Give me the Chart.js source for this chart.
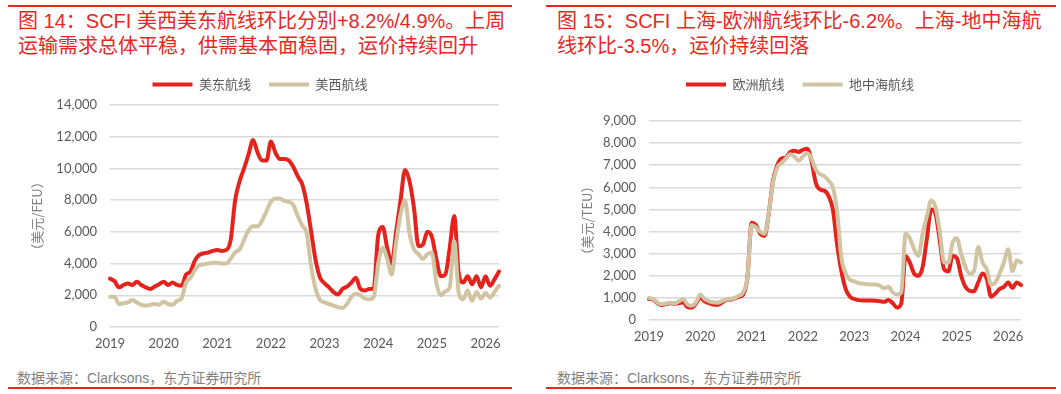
<!DOCTYPE html>
<html>
<head>
<meta charset="utf-8">
<script src="https://cdn.jsdelivr.net/npm/chart.js@4"></script>
<style>
  html, body { margin: 0; padding: 0; background: #fff; }
  body { width: 1061px; height: 394px; position: relative; overflow: hidden; font-family: "Liberation Sans", "Noto Sans CJK SC", sans-serif; }
  .rule { position: absolute; height: 2px; background: #e8281f; }
  .title { position: absolute; top: 9px; color: #e8281f; font-size: 20px; line-height: 24.5px; white-space: nowrap; }
  .source { position: absolute; top: 367px; color: #7f7f7f; font-size: 14px; white-space: nowrap; }
  canvas { position: absolute; }
</style>
</head>
<body>
<div class="rule" style="left:8px; top:5px; width:504px;"></div>
<div class="rule" style="left:546px; top:5px; width:510px;"></div>
<div class="title" style="left:18px;">图 14：SCFI 美西美东航线环比分别+8.2%/4.9%。上周<br>运输需求总体平稳，供需基本面稳固，运价持续回升</div>
<div class="title" style="left:557px;">图 15：SCFI 上海-欧洲航线环比-6.2%。上海-地中海航<br>线环比-3.5%，运价持续回落</div>

<canvas id="chart-us" width="490" height="300" style="left:21px; top:60px;"></canvas>
<canvas id="chart-eu" width="472" height="293" style="left:579px; top:60px;"></canvas>

<div class="source" style="left:17px;">数据来源：Clarksons，东方证券研究所</div>
<div class="source" style="left:557px;">数据来源：Clarksons，东方证券研究所</div>
<div class="rule" style="left:8px; top:387px; width:504px;"></div>
<div class="rule" style="left:546px; top:387px; width:510px;"></div>

<script>
// 月份：2019-01 到 2026-04
const months = [];
for (let y = 2019; y <= 2026; y++) {
    for (let m = 1; m <= 12; m++) {
        if (y === 2026 && m > 4) break;
        months.push(y + '-' + String(m).padStart(2, '0'));
    }
}

// 图14 美东 / 美西 (美元/FEU)
const usEast = [
    3050, 2900, 2500, 2650, 2750, 2650, 2850, 2650, 2500, 2400, 2550, 2700,
    2850, 2650, 2800, 2650, 2600, 3300, 3500, 4200, 4550, 4650, 4700, 4800,
    4850, 4800, 4850, 5500, 8000, 9200, 10000, 10900, 11800, 11000, 10500, 10500,
    11700, 11000, 10600, 10600, 10500, 10100, 9500, 9000, 7800, 6000, 4200, 3100,
    2750, 2500, 2200, 2050, 2400, 2550, 2800, 3100, 2400, 2300, 2400, 2450,
    5800, 6300, 5000, 4000, 6000, 8000, 9900, 9200, 7500, 5100, 5200, 6000,
    5700, 4300, 3200, 3300, 5000, 7000, 3400, 2800, 3200, 2700, 3200, 2500,
    3200, 2600, 3000, 3500
];
const usWest = [
    1900, 1900, 1450, 1500, 1550, 1700, 1550, 1400, 1350, 1400, 1450, 1400,
    1600, 1450, 1400, 1650, 1800, 2800, 3100, 3600, 3900, 3950, 4000, 4050,
    4050, 4000, 4000, 4300, 4700, 4900, 5500, 6100, 6350, 6350, 6700, 7300,
    7900, 8100, 8100, 7950, 7900, 7700, 7000, 6400, 5900, 3800, 2400, 1700,
    1550, 1450, 1350, 1250, 1200, 1450, 1900, 2100, 2000, 1800, 1750, 1900,
    4000, 5000, 4300, 3300, 5300, 7100, 8000, 5900, 4900, 4600, 4300, 4600,
    4700, 2800, 2000, 2250, 2500, 5400, 2200, 1750, 2300, 1650, 2200, 1800,
    2150, 1850, 2200, 2600
];

// 图15 欧洲 / 地中海 (美元/TEU)
const europe = [
    950, 920, 750, 680, 720, 760, 740, 760, 800, 580, 560, 750,
    1000, 850, 760, 700, 680, 780, 900, 920, 980, 1050, 1150, 1900,
    4400, 4300, 3900, 3800, 4800, 6300, 7000, 7300, 7350, 7600, 7650, 7600,
    7700, 7750, 7200, 6200, 5900, 5850, 5600, 5000, 3400, 2200, 1400, 1050,
    950, 900, 880, 880, 880, 870, 850, 820, 900, 760, 560, 750,
    2900, 2600, 2100, 2000, 2400, 3700, 5000, 4800, 3600, 2300, 2200, 2900,
    2800, 2000, 1500, 1320, 1300, 1700, 2100, 1850, 1050, 1200, 1400, 1500,
    1700, 1450, 1700, 1580
];
const mediterranean = [
    1000, 950, 780, 720, 750, 780, 760, 850, 950, 700, 650, 800,
    1150, 950, 850, 800, 780, 850, 920, 950, 1000, 1100, 1250, 1900,
    4300, 4200, 4000, 3900, 4800, 6200, 6900, 7100, 7300, 7500, 7400, 7200,
    7400, 7550, 7300, 6800, 6600, 6500, 6300, 6000, 4900, 2800, 2100, 1820,
    1750, 1670, 1650, 1620, 1600, 1600, 1550, 1440, 1500, 1250, 1150, 1250,
    3900, 3700, 3200, 2900, 3900, 4700, 5400, 5100, 4000, 2600, 2600, 3500,
    3700, 3000, 2400, 2100, 2200, 3300, 2600, 2300, 1600, 1700, 2100, 2600,
    3200, 2200, 2700, 2600
];

const RED = '#e5231c';
const BEIGE = '#d0c4a3';
const GRAY = '#595959';

// 图例与绘图区之间留空
function legendGap(gap) {
    return {
        id: 'legendGap',
        beforeInit(chart) {
            const fit = chart.legend.fit;
            chart.legend.fit = function () {
                fit.bind(chart.legend)();
                this.height += gap;
            };
        }
    };
}

function makeChart(canvasId, names, seriesA, seriesB, yMax, yStep, yTitle, yWidth, padRight, gap, titlePad) {
    const lineStyle = {
        borderWidth: 4,
        pointRadius: 0,
        cubicInterpolationMode: 'monotone',
        borderCapStyle: 'round',
        borderJoinStyle: 'round'
    };
    return new Chart(document.getElementById(canvasId), {
        type: 'line',
        data: {
            labels: months,
            datasets: [
                Object.assign({ label: names[0], data: seriesA, borderColor: RED, backgroundColor: RED, order: 1 }, lineStyle),
                Object.assign({ label: names[1], data: seriesB, borderColor: BEIGE, backgroundColor: BEIGE, order: 0 }, lineStyle)
            ]
        },
        plugins: [legendGap(gap)],
        options: {
            responsive: false,
            animation: false,
            layout: { padding: { left: 0, right: padRight, top: 0, bottom: 0 } },
            plugins: {
                tooltip: { enabled: false },
                legend: {
                    position: 'top',
                    labels: {
                        usePointStyle: true,
                        pointStyle: 'line',
                        pointStyleWidth: 40,
                        padding: 18,
                        color: GRAY,
                        font: { family: '"Noto Sans CJK SC"', size: 13 },
                        sort: (a, b) => a.datasetIndex - b.datasetIndex
                    }
                }
            },
            scales: {
                x: {
                    grid: { display: false, drawTicks: false },
                    border: { display: false },
                    ticks: {
                        autoSkip: false,
                        maxRotation: 0,
                        padding: 10,
                        color: GRAY,
                        font: { family: 'Lato', size: 13, lineHeight: 1 },
                        callback: function (value) {
                            const lab = this.getLabelForValue(value);
                            return lab.endsWith('-01') ? lab.slice(0, 4) : null;
                        }
                    }
                },
                y: {
                    min: 0,
                    max: yMax,
                    afterFit: (scale) => { scale.width = yWidth; },
                    grid: { color: '#d9d9d9', lineWidth: 1.5, drawTicks: false },
                    border: { display: false },
                    ticks: {
                        stepSize: yStep,
                        padding: 13,
                        color: GRAY,
                        font: { family: 'Lato', size: 13, lineHeight: 1 }
                    },
                    title: {
                        display: true,
                        text: yTitle,
                        color: '#7f7f7f',
                        padding: { top: titlePad, bottom: 0 },
                        font: { family: '"Noto Sans CJK SC"', size: 13 }
                    }
                }
            }
        }
    });
}

makeChart('chart-us', ['美东航线', '美西航线'], usEast, usWest, 14000, 2000, '（美元/FEU）', 89, 12, 4, 8);
makeChart('chart-eu', ['欧洲航线', '地中海航线'], europe, mediterranean, 9000, 1000, '（美元/TEU）', 70, 30, 20, 0);
</script>
</body>
</html>
